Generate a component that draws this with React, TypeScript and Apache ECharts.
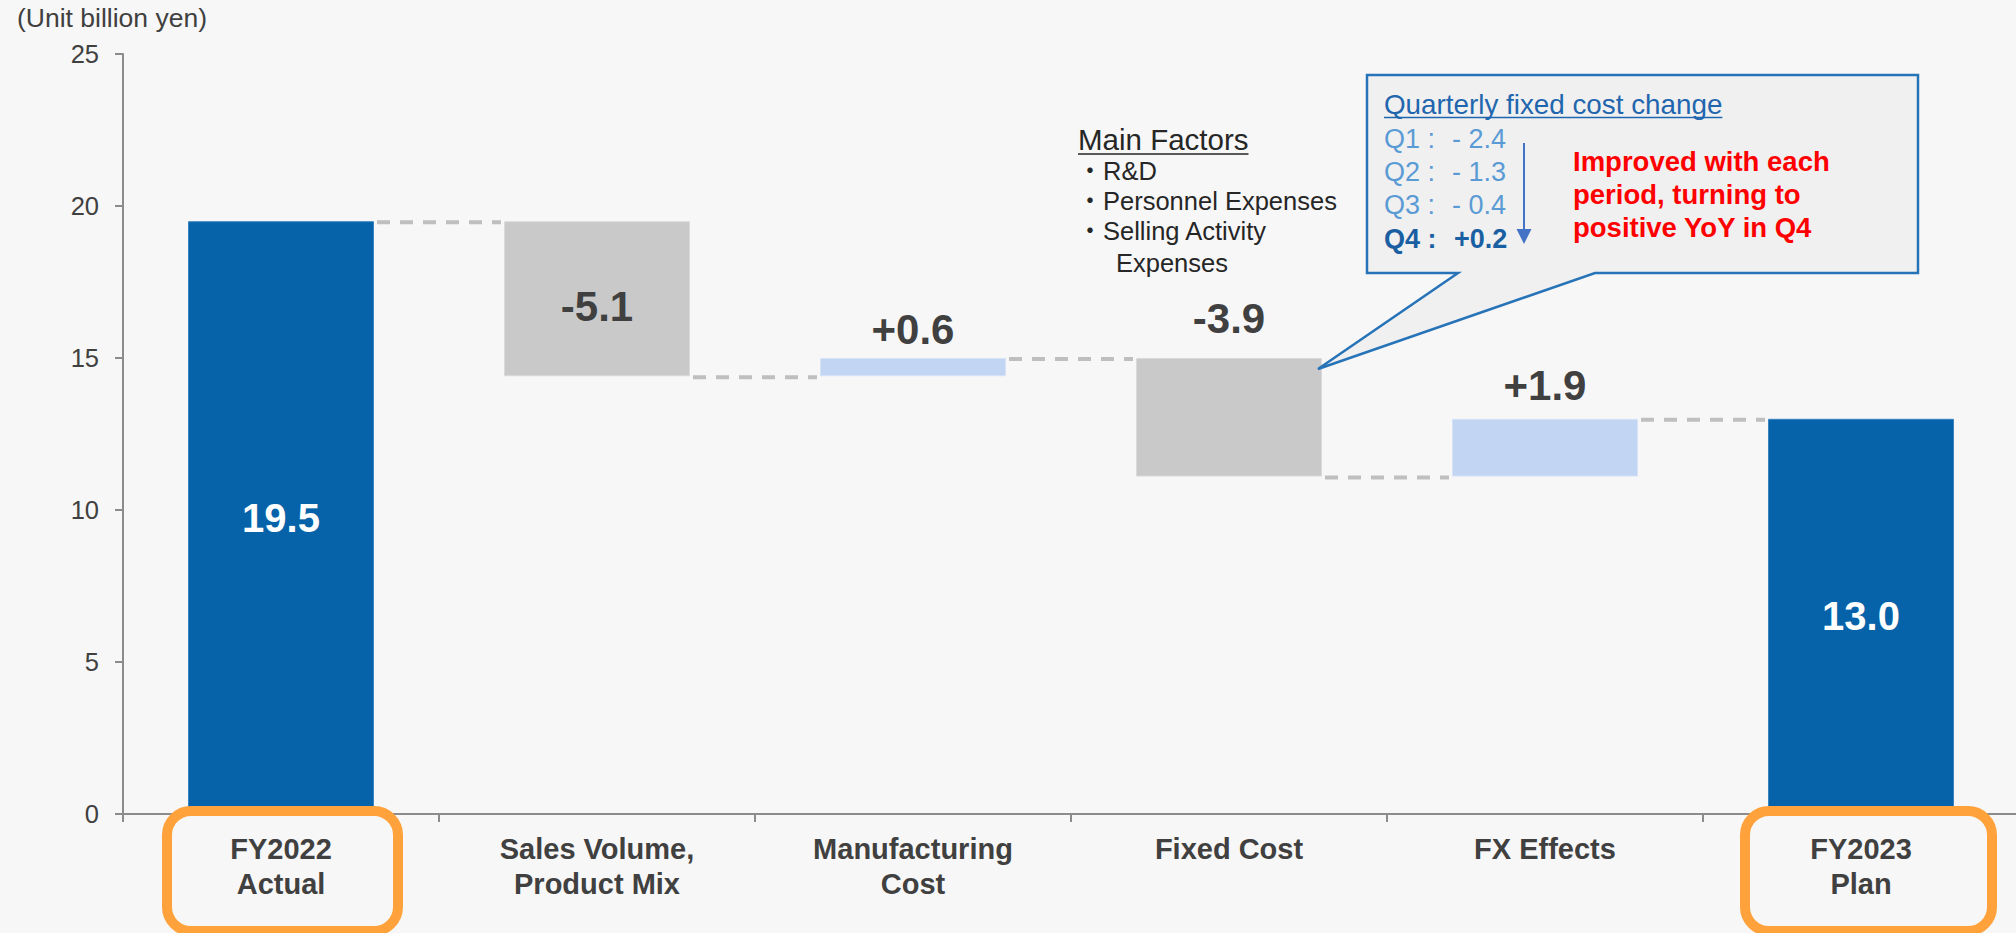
import React, { useEffect, useRef } from "react";
import * as echarts from "echarts";

// ---------- data ----------
const categories = [
  "FY2022\nActual",
  "Sales Volume,\nProduct Mix",
  "Manufacturing\nCost",
  "Fixed Cost",
  "FX Effects",
  "FY2023\nPlan",
];
const changes = [19.5, -5.1, 0.6, -3.9, 1.9, 13.0];
const isTotal = [true, false, false, false, false, true];
const labelInside = [true, true, false, false, false, true];
const yMin = 0;
const yMax = 25;
const yInterval = 5;

const unitLabel = "(Unit billion yen)";
const mainFactorsTitle = "Main Factors";
const mainFactors = ["R&D", "Personnel Expenses", "Selling Activity\nExpenses"];
const calloutTitle = "Quarterly fixed cost change";
const quarterNames = ["Q1 :", "Q2 :", "Q3 :", "Q4 :"];
const quarterChanges = [-2.4, -1.3, -0.4, 0.2];
const calloutNote = ["Improved with each", "period, turning to", "positive YoY in Q4"];

// ---------- styles ----------
const FONT = "'Liberation Sans', Arial, 'Noto Sans CJK JP', sans-serif";
const BG = "#F7F7F7";
const DARK_BLUE = "#0663A9";
const GREY_BAR = "#C9C9C9";
const LIGHT_BLUE = "#C2D6F4";
const TEXT = "#404040";
const AXIS = "#8C8C8C";
const BAR_W = 186;
const LABEL_DIST = [0, 0, 8, 19, 12, 0];

function measure(text: string, font: string): number {
  const c = document.createElement("canvas").getContext("2d");
  if (!c) return text.length * 12;
  c.font = font;
  return c.measureText(text).width;
}

function txt(x: number, baseline: number, text: string, fs: number, fill: string, weight: string = "normal", align: string = "left") {
  return {
    type: "text",
    x,
    y: baseline - 0.3465 * fs,
    z: 100,
    style: {
      text,
      fill,
      fontSize: fs,
      fontWeight: weight,
      fontFamily: FONT,
      align,
      textAlign: align,
      verticalAlign: "middle",
      textVerticalAlign: "middle",
    },
  };
}

function fmtDelta(v: number): string {
  return (v > 0 ? "+" : "") + v.toFixed(1);
}

function fmtQuarter(v: number): string {
  return v < 0 ? "- " + Math.abs(v).toFixed(1) : "+" + v.toFixed(1);
}

export default function App() {
  const ref = useRef<HTMLDivElement>(null);

  useEffect(() => {
    if (!ref.current) return;
    const chart = echarts.init(ref.current, undefined, { renderer: "svg" });

    // waterfall geometry from values
    const bases: number[] = [];
    const heights: number[] = [];
    const levels: number[] = [];
    let running = 0;
    changes.forEach((v, i) => {
      if (isTotal[i]) {
        bases.push(0);
        heights.push(v);
        running = v;
      } else {
        const next = Math.round((running + v) * 10) / 10;
        bases.push(Math.min(running, next));
        heights.push(Math.abs(v));
        running = next;
      }
      levels.push(running);
    });

    const valueData = heights.map((h, i) => {
      const color = isTotal[i] ? DARK_BLUE : changes[i] < 0 ? GREY_BAR : LIGHT_BLUE;
      const border = isTotal[i] ? "#3B84C2" : changes[i] < 0 ? "#DADADA" : "#D6E3F7";
      const inside = labelInside[i];
      return {
        value: h,
        itemStyle: { color, borderColor: border, borderWidth: 1 },
        label: {
          show: true,
          position: inside ? "inside" : "top",
          distance: LABEL_DIST[i],
          offset: inside && !isTotal[i] ? [0, 8] : [0, 0],
          formatter: isTotal[i] ? changes[i].toFixed(1) : fmtDelta(changes[i]),
          color: isTotal[i] ? "#FFFFFF" : TEXT,
          fontSize: isTotal[i] ? 40 : 42,
          fontWeight: "bold",
          fontFamily: FONT,
        },
      };
    });

    const connectorData = levels.slice(0, levels.length - 1).map((lv, i) => [i, lv]);

    // graphics
    const graphics: any[] = [];
    graphics.push(txt(17, 27, unitLabel, 26.5, TEXT));

    // orange highlight boxes
    graphics.push({
      type: "rect",
      z: 90,
      shape: { x: 167, y: 811, width: 231, height: 120, r: 24 },
      style: { fill: "none", stroke: "#FFA23C", lineWidth: 10 },
    });
    graphics.push({
      type: "rect",
      z: 90,
      shape: { x: 1745, y: 811, width: 247, height: 120, r: 24 },
      style: { fill: "none", stroke: "#FFA23C", lineWidth: 10 },
    });

    // Main factors
    const mfSize = 29.5;
    const mfFont = `normal ${mfSize}px ${FONT}`;
    graphics.push(txt(1078, 150, mainFactorsTitle, mfSize, "#262626"));
    graphics.push({
      type: "line",
      z: 100,
      shape: { x1: 1078, y1: 154, x2: 1078 + measure(mainFactorsTitle, mfFont), y2: 154 },
      style: { stroke: "#262626", lineWidth: 1.5 },
    });
    const mfBaselines = [180, 210, 240, 272];
    let line = 0;
    mainFactors.forEach((item) => {
      const parts = item.split("\n");
      graphics.push(txt(1090, mfBaselines[line], "・", 25.5, "#262626", "normal", "center"));
      parts.forEach((p, k) => {
        graphics.push(txt(k === 0 ? 1103 : 1116, mfBaselines[line], p, 25.5, "#262626"));
        line++;
      });
    });

    // callout
    graphics.push({
      type: "polygon",
      z: 95,
      shape: {
        points: [
          [1367, 75],
          [1918, 75],
          [1918, 273],
          [1595, 273],
          [1318, 369],
          [1458, 273],
          [1367, 273],
        ],
      },
      style: { fill: "#F0F0F0", stroke: "#2673B8", lineWidth: 2.5, lineJoin: "miter" },
    });
    const titleSize = 27.8;
    const titleFont = `normal ${titleSize}px ${FONT}`;
    graphics.push(txt(1384, 114, calloutTitle, titleSize, "#1F66AE"));
    graphics.push({
      type: "line",
      z: 100,
      shape: { x1: 1384, y1: 117.5, x2: 1384 + measure(calloutTitle, titleFont), y2: 117.5 },
      style: { stroke: "#1F66AE", lineWidth: 1.5 },
    });
    const qBaselines = [148, 181, 214, 248];
    quarterNames.forEach((q, i) => {
      const last = i === quarterNames.length - 1;
      const color = last ? "#1A5FA2" : "#5B9BD5";
      const weight = last ? "bold" : "normal";
      graphics.push(txt(1384, qBaselines[i], q, 27, color, weight));
      graphics.push(txt(last ? 1454 : 1452, qBaselines[i], fmtQuarter(quarterChanges[i]), 27, color, weight));
    });
    graphics.push({
      type: "line",
      z: 100,
      shape: { x1: 1524, y1: 143, x2: 1524, y2: 231 },
      style: { stroke: "#4472C4", lineWidth: 2 },
    });
    graphics.push({
      type: "polygon",
      z: 100,
      shape: { points: [[1516.5, 229], [1531.5, 229], [1524, 244]] },
      style: { fill: "#4472C4" },
    });
    const noteBaselines = [171, 204, 237];
    calloutNote.forEach((n, i) => {
      graphics.push(txt(1573, noteBaselines[i], n, 27.5, "#FF0000", "bold"));
    });

    const option: any = {
      animation: false,
      backgroundColor: BG,
      textStyle: { fontFamily: FONT },
      grid: {
        left: 123,
        top: 54,
        width: 1896,
        height: 760,
        containLabel: false,
        outerBoundsMode: "none",
      },
      xAxis: {
        type: "category",
        data: categories,
        axisLine: { show: true, lineStyle: { color: AXIS, width: 2 } },
        axisTick: { show: true, length: 8, lineStyle: { color: AXIS, width: 2 } },
        axisLabel: {
          interval: 0,
          margin: 17,
          color: TEXT,
          fontSize: 29,
          fontWeight: "bold",
          fontFamily: FONT,
          lineHeight: 35,
        },
        splitLine: { show: false },
      },
      yAxis: {
        type: "value",
        min: yMin,
        max: yMax,
        interval: yInterval,
        axisLine: { show: true, lineStyle: { color: AXIS, width: 2 } },
        axisTick: { show: true, length: 8, lineStyle: { color: AXIS, width: 2 } },
        axisLabel: { margin: 24, color: TEXT, fontSize: 25.5, fontFamily: FONT },
        splitLine: { show: false },
      },
      series: [
        {
          type: "bar",
          stack: "wf",
          barWidth: BAR_W,
          silent: true,
          itemStyle: { color: "rgba(0,0,0,0)" },
          data: bases,
        },
        {
          type: "bar",
          stack: "wf",
          barWidth: BAR_W,
          data: valueData,
        },
        {
          type: "custom",
          data: connectorData,
          encode: { x: 0, y: 1 },
          silent: true,
          z: 1,
          renderItem: (params: any, api: any) => {
            const i = api.value(0);
            const v = api.value(1);
            const p1 = api.coord([i, v]);
            const p2 = api.coord([i + 1, v]);
            const half = BAR_W / 2;
            return {
              type: "line",
              shape: { x1: p1[0] + half + 3, y1: p1[1] + 1, x2: p2[0] - half - 3, y2: p1[1] + 1 },
              style: { stroke: "#BFBFBF", lineWidth: 4, lineDash: [13, 10] },
            };
          },
        },
      ],
      graphic: { elements: graphics },
    };

    chart.setOption(option);
    return () => {
      chart.dispose();
    };
  }, []);

  return (
    <div
      ref={ref}
      style={{ position: "fixed", left: 0, top: 0, width: 2016, height: 933, background: BG }}
    />
  );
}
